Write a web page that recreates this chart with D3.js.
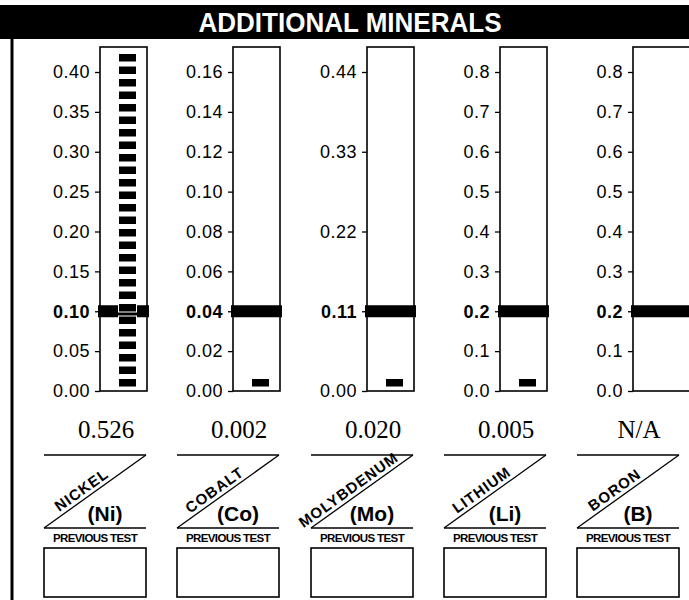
<!DOCTYPE html>
<html><head><meta charset="utf-8">
<script src="https://cdn.jsdelivr.net/npm/d3@7"></script>
<style>body{margin:0;background:#fff} svg{display:block}</style>
</head><body>
<svg id="c" width="689" height="600"></svg>
<script>
const titleText = "ADDITIONAL MINERALS";
const minerals = ["NICKEL", "COBALT", "MOLYBDENUM", "LITHIUM", "BORON"];
const symbols = ["(Ni)", "(Co)", "(Mo)", "(Li)", "(B)"];
const results = [0.526, 0.002, 0.020, 0.005, null];
const resultLabels = ["0.526", "0.002", "0.020", "0.005", "N/A"];
const refValues = [0.10, 0.04, 0.11, 0.2, 0.2];
const ticksNi = [0, 0.05, 0.10, 0.15, 0.20, 0.25, 0.30, 0.35, 0.40];
const ticksCo = [0, 0.02, 0.04, 0.06, 0.08, 0.10, 0.12, 0.14, 0.16];
const ticksMo = [0, 0.11, 0.22, 0.33, 0.44];
const ticksLi = [0, 0.1, 0.2, 0.3, 0.4, 0.5, 0.6, 0.7, 0.8];
const ticksB = [0, 0.1, 0.2, 0.3, 0.4, 0.5, 0.6, 0.7, 0.8];
const tickValues = [ticksNi, ticksCo, ticksMo, ticksLi, ticksB];
const tickFormats = [".2f", ".2f", ".2f", ".1f", ".1f"];
const prevLabel = "PREVIOUS TEST";

const SANS = "'Liberation Sans', Arial, Helvetica, sans-serif";
const SERIF = "'Liberation Serif', 'Times New Roman', serif";
const svg = d3.select("#c");

// header
svg.append("rect").attr("x", 0).attr("y", 5).attr("width", 689).attr("height", 34).attr("fill", "#000");
svg.append("text").attr("x", 350).attr("y", 32).attr("text-anchor", "middle")
  .attr("fill", "#fff").attr("font-family", SANS).attr("font-weight", "bold")
  .attr("font-size", 27).attr("textLength", 303).attr("lengthAdjust", "spacingAndGlyphs").text(titleText);
svg.append("line").attr("x1", 12).attr("x2", 12).attr("y1", 39).attr("y2", 600)
  .attr("stroke", "#000").attr("stroke-width", 3);

const colX = d3.scaleLinear().domain([0, minerals.length - 1]).range([100, 633]);
const Y0 = 391, YT = 72, YTOP = 47;

minerals.forEach((m, i) => {
  const L = Math.round(colX(i));
  const w = i === minerals.length - 1 ? 62 : 47;
  const maxT = d3.max(tickValues[i]);
  const y = d3.scaleLinear().domain([0, maxT]).range([Y0, YT]);
  const g = svg.append("g");

  // reference band
  g.append("rect").attr("x", L - 2).attr("y", y(refValues[i]) - 6).attr("width", w + 4).attr("height", 12).attr("fill", "#000");

  // segmented result bar
  if (results[i] != null) {
    const pitch = 12.5, segH = 8.5, gap = 4;
    const stepData = y.invert(Y0 - pitch);
    const maxN = Math.floor((Y0 - YTOP - gap) / pitch);
    const n = Math.max(1, Math.min(maxN, Math.round(results[i] / stepData)));
    const segs = d3.range(n).map(k => k * stepData);
    g.selectAll("rect.seg").data(segs).join("rect").attr("class", "seg")
      .attr("x", L + w / 2 - 5).attr("width", 18)
      .attr("y", d => y(d) - gap - segH).attr("height", segH)
      .attr("fill", "#000").attr("stroke", "#fff").attr("stroke-width", 1);
  }

  // gauge box
  g.append("rect").attr("x", L).attr("y", YTOP).attr("width", w).attr("height", Y0 - YTOP)
    .attr("fill", "none").attr("stroke", "#000").attr("stroke-width", 1.6);

  // axis
  const ax = d3.axisLeft(y).tickValues(tickValues[i]).tickFormat(d3.format(tickFormats[i])).tickSize(5).tickPadding(5);
  const ag = g.append("g").attr("transform", `translate(${L},0)`).call(ax);
  ag.select(".domain").remove();
  ag.selectAll("line").attr("stroke", "#000").attr("stroke-width", 1.3);
  ag.selectAll("text").attr("font-family", SANS).attr("font-size", 18).attr("fill", "#000")
    .attr("letter-spacing", "0.5px")
    .attr("font-weight", d => Math.abs(d - refValues[i]) < 1e-9 ? "bold" : "normal");

  // result value
  g.append("text").attr("x", L + 6).attr("y", 438).attr("text-anchor", "middle")
    .attr("font-family", SERIF).attr("font-size", 25).attr("fill", "#000").text(resultLabels[i]);

  // diagonal label box
  const bl = L - 56, br = L + 46, bt = 455, bb = 528;
  g.append("line").attr("x1", bl).attr("x2", br).attr("y1", bt).attr("y2", bt).attr("stroke", "#000").attr("stroke-width", 1.5);
  g.append("line").attr("x1", bl).attr("x2", br).attr("y1", bb).attr("y2", bb).attr("stroke", "#000").attr("stroke-width", 1.5);
  g.append("line").attr("x1", br).attr("y1", bt).attr("x2", bl).attr("y2", bb).attr("stroke", "#000").attr("stroke-width", 1.3);
  const ang = Math.atan2(bb - bt, br - bl);
  const s = 0.42 * Math.hypot(br - bl, bb - bt);
  const px = bl + s * Math.cos(ang) - 4 * Math.sin(ang);
  const py = bb - s * Math.sin(ang) - 4 * Math.cos(ang);
  g.append("text").attr("transform", `translate(${px},${py}) rotate(${-ang * 180 / Math.PI})`)
    .attr("text-anchor", "middle").attr("font-family", SANS).attr("font-weight", "bold")
    .attr("font-size", 15).attr("letter-spacing", "1px").attr("fill", "#000").text(m);
  g.append("text").attr("x", L + 5).attr("y", 521).attr("text-anchor", "middle")
    .attr("font-family", SANS).attr("font-weight", "bold").attr("font-size", 21).attr("fill", "#000").text(symbols[i]);

  // previous test
  g.append("text").attr("x", L - 5).attr("y", 542).attr("text-anchor", "middle")
    .attr("font-family", SANS).attr("font-weight", "bold").attr("font-size", 11.5)
    .attr("letter-spacing", "-0.6px").attr("fill", "#000").text(prevLabel);
  g.append("rect").attr("x", bl).attr("y", 548).attr("width", br - bl).attr("height", 49)
    .attr("fill", "none").attr("stroke", "#000").attr("stroke-width", 1.6);
});
</script>
</body></html>
